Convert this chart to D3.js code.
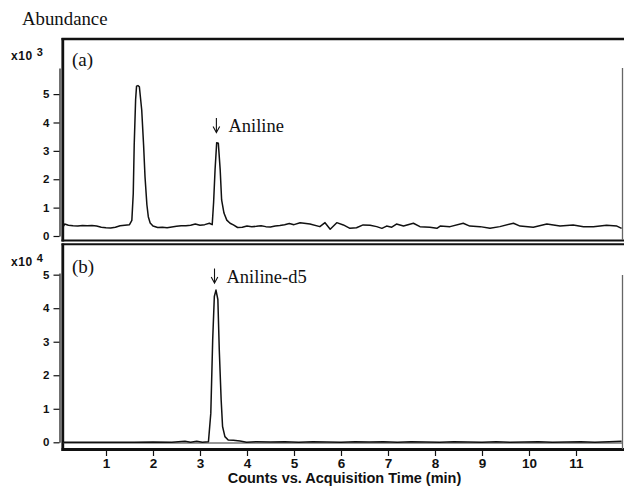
<!DOCTYPE html>
<html>
<head>
<meta charset="utf-8">
<script src="https://cdn.jsdelivr.net/npm/d3@7"></script>
<style>
  html, body { margin: 0; padding: 0; background: #fff; }
  svg { display: block; }
</style>
</head>
<body>
<svg id="chart" width="624" height="486"></svg>
<script>
// ---- data ----
const xTicks = [1, 2, 3, 4, 5, 6, 7, 8, 9, 10, 11];
const yTicksA = [0, 1, 2, 3, 4, 5];
const yTicksB = [0, 1, 2, 3, 4, 5];

// panel (a): abundance x10^3 vs time (min)
const timeA = [0.08, 0.12, 0.2, 0.3, 0.4, 0.5, 0.6, 0.7, 0.8, 0.9, 1.0, 1.1, 1.2, 1.3, 1.4, 1.5,
  1.55, 1.58, 1.60, 1.63, 1.65, 1.68, 1.71, 1.76, 1.80, 1.83, 1.87, 1.90, 1.94,
  2.0, 2.1, 2.2, 2.3, 2.4, 2.5, 2.6, 2.7, 2.8, 2.9, 3.0, 3.1, 3.2,
  3.26, 3.29, 3.32, 3.355, 3.39, 3.43, 3.46, 3.51, 3.57, 3.64, 3.71,
  3.8, 3.9, 4.0, 4.1, 4.2, 4.3, 4.4, 4.5, 4.6, 4.7, 4.8, 4.9, 5.0,
  5.13, 5.34, 5.55, 5.66, 5.77, 5.91, 6.05, 6.19, 6.33, 6.47,
  6.62, 6.76, 6.87, 6.97, 7.08, 7.18, 7.33, 7.54, 7.68, 7.89,
  8.04, 8.11, 8.32, 8.60, 8.74, 8.96, 9.17, 9.38, 9.67, 9.81,
  10.09, 10.38, 10.66, 10.94, 11.16, 11.37, 11.65, 11.87, 11.97];
const abundA = [0.30, 0.42, 0.38, 0.36, 0.35, 0.37, 0.36, 0.37, 0.35, 0.31, 0.29, 0.28, 0.31, 0.36, 0.38, 0.40,
  0.55, 1.5, 3.2, 4.8, 5.28, 5.30, 5.26, 4.44, 3.2, 2.09, 1.1, 0.68, 0.46,
  0.35, 0.30, 0.31, 0.29, 0.32, 0.34, 0.36, 0.36, 0.38, 0.42, 0.38, 0.40, 0.45,
  0.40, 1.2, 2.32, 3.29, 3.27, 2.32, 1.27, 0.81, 0.56, 0.45, 0.39,
  0.30, 0.31, 0.35, 0.33, 0.34, 0.36, 0.33, 0.32, 0.35, 0.37, 0.40, 0.44, 0.40,
  0.47, 0.42, 0.33, 0.47, 0.24, 0.47, 0.39, 0.27, 0.29, 0.39,
  0.38, 0.33, 0.27, 0.35, 0.31, 0.42, 0.35, 0.45, 0.33, 0.31,
  0.27, 0.35, 0.33, 0.45, 0.35, 0.33, 0.27, 0.33, 0.45, 0.35,
  0.31, 0.42, 0.35, 0.39, 0.33, 0.33, 0.38, 0.35, 0.27];

// panel (b): abundance x10^4 vs time (min)
const timeB = [0.08, 0.4, 0.8, 1.2, 1.6, 2.0, 2.4, 2.68, 2.8, 2.93,
  3.05, 3.18, 3.23, 3.27, 3.305, 3.34, 3.38, 3.41, 3.45, 3.48,
  3.53, 3.60, 3.71, 3.85, 3.99, 4.2, 4.5, 4.8, 5.1, 5.4,
  5.7, 6.0, 6.3, 6.6, 6.9, 7.2, 7.5, 7.8, 8.1, 8.4,
  8.7, 9.0, 9.3, 9.6, 9.9, 10.2, 10.5, 10.8, 11.1, 11.4, 11.7, 11.97];
const abundB = [0.0, 0.0, 0.005, 0.0, 0.0, 0.01, 0.0, 0.03, 0.0, 0.03,
  0.0, 0.02, 0.87, 3.05, 4.35, 4.54, 4.26, 2.76, 1.27, 0.47,
  0.17, 0.07, 0.06, 0.04, 0.0, 0.02, 0.01, 0.02, 0.0, 0.02,
  0.01, 0.0, 0.02, 0.01, 0.02, 0.0, 0.02, 0.01, 0.0, 0.02,
  0.01, 0.0, 0.02, 0.0, 0.01, 0.02, 0.0, 0.01, 0.02, 0.0, 0.02, 0.03];

const labelsA = { panel: "(a)", peak: "Aniline", peakTime: 3.37, exp: "3" };
const labelsB = { panel: "(b)", peak: "Aniline-d5", peakTime: 3.33, exp: "4" };

// ---- layout ----
const svg = d3.select("#chart");
const serif = "'Liberation Serif','Times New Roman',Times,serif";
const sans = "'Liberation Sans',Arial,Helvetica,sans-serif";

const x = d3.scaleLinear().domain([0, 12]).range([59, 623]);
const yA = d3.scaleLinear().domain([0, 5.92]).range([236, 68]);
const yB = d3.scaleLinear().domain([0, 5.05]).range([442.3, 273]);

// clip paths
const defs = svg.append("defs");
defs.append("clipPath").attr("id", "clipA").append("rect")
  .attr("x", 64).attr("y", 41).attr("width", 558).attr("height", 198);
defs.append("clipPath").attr("id", "clipB").append("rect")
  .attr("x", 64).attr("y", 246).attr("width", 558).attr("height", 202);

// Title
svg.append("text").attr("x", 22).attr("y", 25)
  .attr("font-family", serif).attr("font-size", 18.8).attr("fill", "#111")
  .text("Abundance");

// frames
const frame = svg.append("g").attr("stroke", "#111").attr("fill", "none");
// panel a
frame.append("line").attr("x1", 61.5).attr("x2", 624).attr("y1", 39).attr("y2", 39).attr("stroke-width", 2.6);
frame.append("line").attr("x1", 62.8).attr("x2", 62.8).attr("y1", 38).attr("y2", 241.5).attr("stroke-width", 2.8);
frame.append("line").attr("x1", 61.5).attr("x2", 624).attr("y1", 240.5).attr("y2", 240.5).attr("stroke-width", 2);
// panel b
frame.append("line").attr("x1", 61.5).attr("x2", 624).attr("y1", 244.3).attr("y2", 244.3).attr("stroke-width", 2);
frame.append("line").attr("x1", 62.8).attr("x2", 62.8).attr("y1", 243.5).attr("y2", 451).attr("stroke-width", 2.8);
frame.append("line").attr("x1", 61.5).attr("x2", 624).attr("y1", 449.5).attr("y2", 449.5).attr("stroke-width", 3);
frame.append("line").attr("x1", 63).attr("x2", 622).attr("y1", 443).attr("y2", 443).attr("stroke-width", 1).attr("stroke", "#333");
// right thin borders
frame.append("line").attr("x1", 622.5).attr("x2", 622.5).attr("y1", yA.range()[1]).attr("y2", 240).attr("stroke-width", 1.3).attr("stroke", "#666");
frame.append("line").attr("x1", 622.5).attr("x2", 622.5).attr("y1", yB.range()[1] + 2).attr("y2", 449).attr("stroke-width", 1.3).attr("stroke", "#666");

// y axes
function yAxis(scale, ticks) {
  const g = svg.append("g").attr("transform", "translate(59.5,0)")
    .call(d3.axisLeft(scale).tickValues(ticks).tickSize(6).tickSizeOuter(0).tickPadding(4).tickFormat(d3.format("d")));
  g.select(".domain").attr("stroke", "#111").attr("stroke-width", 1.2);
  g.selectAll(".tick line").attr("stroke", "#111").attr("stroke-width", 1.2);
  g.selectAll(".tick text").attr("font-family", sans).attr("font-size", 11.5)
    .attr("font-weight", "bold").attr("fill", "#111");
  return g;
}
yAxis(yA, yTicksA);
yAxis(yB, yTicksB);

// exponent labels
function expLabel(yBase, exp) {
  const t = svg.append("text").attr("x", 11).attr("y", yBase)
    .attr("font-family", sans).attr("font-weight", "bold").attr("fill", "#111");
  t.append("tspan").attr("font-size", 12).attr("letter-spacing", 0.6).text("x10");
  t.append("tspan").attr("font-size", 11).attr("dx", 4).attr("dy", -4).text(exp);
}
expLabel(60, labelsA.exp);
expLabel(266, labelsB.exp);

// x axis
const xg = svg.append("g").attr("transform", "translate(0,451)")
  .call(d3.axisBottom(x).tickValues(xTicks).tickSize(5).tickSizeOuter(0).tickFormat(d3.format("d")));
xg.select(".domain").remove();
xg.selectAll(".tick line").attr("stroke", "#111").attr("stroke-width", 1.2);
xg.selectAll(".tick text").attr("font-family", sans).attr("font-size", 13.5)
  .attr("font-weight", "bold").attr("fill", "#111").attr("y", 16.7).attr("dy", 0);

svg.append("text").attr("x", 344.5).attr("y", 482.5).attr("text-anchor", "middle")
  .attr("font-family", sans).attr("font-size", 14.5).attr("font-weight", "bold").attr("fill", "#111")
  .text("Counts vs. Acquisition Time (min)");

// traces
const lineA = d3.line().x(d => x(d[0])).y(d => yA(d[1]));
const lineB = d3.line().x(d => x(d[0])).y(d => yB(d[1]));
svg.append("path").attr("clip-path", "url(#clipA)")
  .datum(d3.zip(timeA, abundA)).attr("d", lineA)
  .attr("fill", "none").attr("stroke", "#111").attr("stroke-width", 1.5).attr("stroke-linejoin", "round");
svg.append("path").attr("clip-path", "url(#clipB)")
  .datum(d3.zip(timeB, abundB)).attr("d", lineB)
  .attr("fill", "none").attr("stroke", "#111").attr("stroke-width", 1.5).attr("stroke-linejoin", "round");

// panel labels
svg.append("text").attr("x", 72).attr("y", 66).attr("font-family", serif).attr("font-size", 19).attr("fill", "#111").text(labelsA.panel);
svg.append("text").attr("x", 72).attr("y", 273).attr("font-family", serif).attr("font-size", 19).attr("fill", "#111").text(labelsB.panel);

// peak annotations: thin down arrow + label
function annot(t, yBase, label) {
  const cx = x(t) - 1;
  const g = svg.append("g").attr("stroke", "#111").attr("fill", "none").attr("stroke-width", 1.1);
  g.append("line").attr("x1", cx).attr("x2", cx).attr("y1", yBase - 14).attr("y2", yBase);
  g.append("polyline").attr("points", `${cx - 3.3},${yBase - 5.5} ${cx},${yBase + 0.5} ${cx + 3.3},${yBase - 5.5}`);
  svg.append("text").attr("x", cx + 12).attr("y", yBase).attr("font-family", serif)
    .attr("font-size", 18.5).attr("fill", "#111").text(label);
}
annot(labelsA.peakTime, 132, labelsA.peak);
annot(labelsB.peakTime, 282.5, labelsB.peak);
</script>
</body>
</html>
